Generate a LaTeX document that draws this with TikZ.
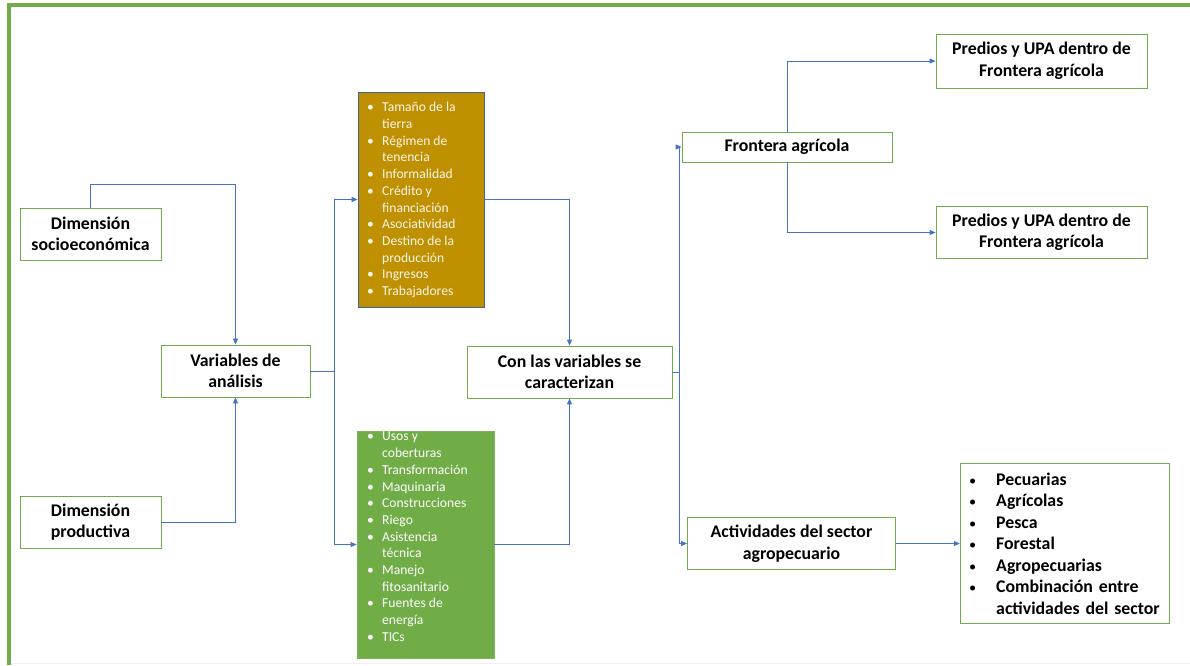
\documentclass[tikz,border=0pt]{standalone}
\usepackage{fontspec}
\setmainfont{Carlito}
\usetikzlibrary{arrows.meta}
\definecolor{boxgreen}{HTML}{70AD47}
\definecolor{linkblue}{HTML}{4472C4}
\definecolor{gold}{HTML}{BF9000}
\definecolor{goldedge}{HTML}{41628F}
\newcommand{\sbul}{\makebox[15pt][l]{\textbullet}}
\newcommand{\sind}{\hspace*{15pt}}
\newcommand{\bbul}{\makebox[27pt][l]{\normalfont\scalebox{0.8}{\textbullet}}}

\begin{document}
\begin{tikzpicture}[x=1pt,y=-1pt,
	box/.style={draw=boxgreen, line width=0.8pt, fill=white, align=center, inner sep=0pt,
		font=\bfseries\fontsize{17.8}{21.5}\selectfont},
	link/.style={draw=linkblue, line width=0.8pt},
	arr/.style={link, -{Triangle[length=6pt,width=5pt]}},
	items/.style={text=white, align=left, inner sep=0pt, anchor=north west,
		font=\fontsize{13.6}{16.7}\selectfont}]
	\useasboundingbox (0,0) rectangle (1190,665);
	\draw[gray!12, line width=0.6pt] (9,663) -- (1190,663);
	\draw[boxgreen, line width=3.5pt] (9,665) -- (9,5) -- (1192,5);

				\node[box, minimum width=141, minimum height=52] (socio) at (90.5,234) {Dimensión\\socioeconómica};
				\node[box, minimum width=141, minimum height=52] (prod) at (90.5,522) {Dimensión\\productiva};
				\node[box, minimum width=149, minimum height=52] (var) at (235.5,371) {Variables de\\análisis};
				\node[draw=goldedge, line width=0.9pt, fill=gold, minimum width=126, minimum height=215] (gold) at (421,199.5) {};
				\node[items, text=white!92!gold] (goldlist) at (367,100) {\strut\sbul Tamaño de la\\\sind tierra\\\sbul Régimen de\\\sind tenencia\\\sbul Informalidad\\\sbul Crédito y\\\sind financiación\\\sbul Asociatividad\\\sbul Destino de la\\\sind producción\\\sbul Ingresos\\\sbul Trabajadores};
				\node[draw=boxgreen!90!white, line width=0.8pt, fill=boxgreen, minimum width=137, minimum height=227] (green) at (425.5,544.5) {};
				\node[items] (greenlist) at (367,429) {\strut\sbul Usos y\\\sind coberturas\\\sbul Transformación\\\sbul Maquinaria\\\sbul Construcciones\\\sbul Riego\\\sbul Asistencia\\\sind técnica\\\sbul Manejo\\\sind fitosanitario\\\sbul Fuentes de\\\sind energía\\\sbul TICs};
				\node[box, minimum width=205, minimum height=52] (con) at (569.5,372) {Con las variables se\\caracterizan};
				\node[box, minimum width=210, minimum height=30] (front) at (787,147) {Frontera agrícola};
				\node[box, minimum width=211, minimum height=54] (pred1) at (1041.5,61) {Predios y UPA dentro de\\Frontera agrícola};
				\node[box, minimum width=211, minimum height=52] (pred2) at (1041.5,232.5) {Predios y UPA dentro de\\Frontera agrícola};
				\node[box, minimum width=208, minimum height=52] (activ) at (791.5,543.5) {Actividades del sector\\agropecuario};
				\node[box, align=left, minimum width=209, minimum height=160, text width=191, inner xsep=9pt] (tipos) at (1064.7,543.5) {\bbul Pecuarias\\\bbul Agrícolas\\\bbul Pesca\\\bbul Forestal\\\bbul Agropecuarias\\\bbul Combinación entre\\\hspace*{27pt}actividades del sector};
				\coordinate (split) at (334,371);
				\coordinate (fork) at (679,372);
				\draw[arr] (socio.north) -- ++(0,-23) -| (var.north);
				\draw[arr] (prod.east) -| (var.south);
				\draw[link] (var.east) -- (split);
				\draw[arr] (split) |- (gold.west);
				\draw[arr] (split) |- (green.west);
				\draw[arr] (gold.east) -| (con.north);
				\draw[arr] (green.east) -| (con.south);
				\draw[link] (con.east) -- (fork);
				\draw[arr] (fork) |- (front.west);
				\draw[arr] (fork) |- (activ.west);
				\draw[arr] (front.north) |- (pred1.west);
				\draw[arr] (front.south) |- (pred2.west);
				\draw[arr] (activ.east) -- (tipos.west);
			\end{tikzpicture}
\end{document}
